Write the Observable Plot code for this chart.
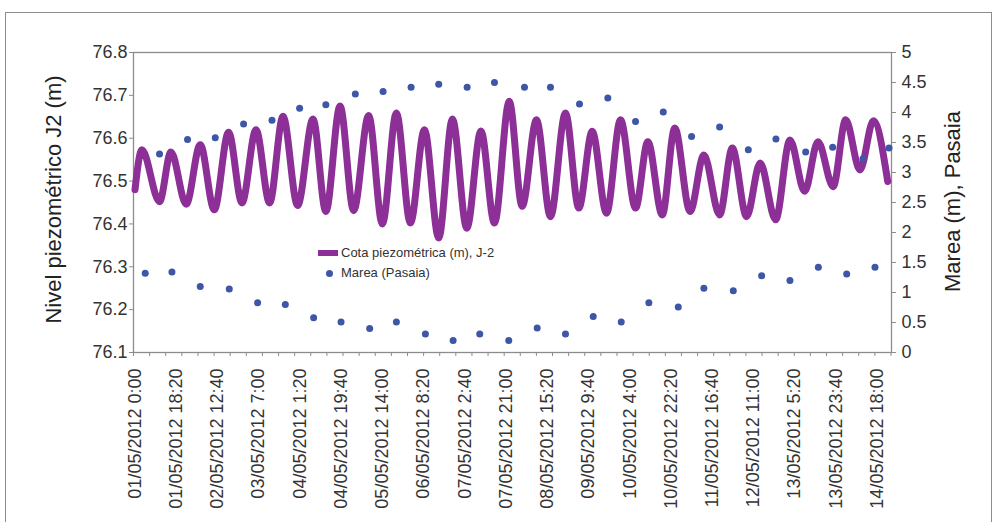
<!DOCTYPE html>
<html>
<head>
<meta charset="utf-8">
<script src="https://cdn.jsdelivr.net/npm/d3@7"></script>
<script src="https://cdn.jsdelivr.net/npm/@observablehq/plot@0.6"></script>
<style>
  body { margin: 0; background: #fff; font-family: "Liberation Sans", Arial, sans-serif; }
  #wrap { position: relative; width: 999px; height: 522px; overflow: hidden; background: #fff; }
  #border { position: absolute; left: 5px; top: 12px; width: 987px; height: 540px; border: 1.5px solid #8c8c8c; box-sizing: border-box; }
  #chart { position: absolute; left: 0; top: 0; }
  .legtxt { position: absolute; font-size: 13px; color: #333; line-height: 16px; white-space: nowrap; }
  .swatch { position: absolute; }
</style>
</head>
<body>
<div id="wrap">
  <div id="border"></div>
  <div id="chart"></div>
  <div class="swatch" style="left:318px;top:250px;width:20px;height:6px;background:#8c2f96;"></div>
  <div class="legtxt" style="left:341px;top:245px;">Cota piezométrica (m), J-2</div>
  <div class="swatch" style="left:326px;top:270px;width:7px;height:7px;border-radius:50%;background:#3d56a6;"></div>
  <div class="legtxt" style="left:341px;top:265px;">Marea (Pasaia)</div>
</div>
<script>
// ---- Data ----
const tickLabels = [
  "01/05/2012 0:00", "01/05/2012 18:20", "02/05/2012 12:40", "03/05/2012 7:00",
  "04/05/2012 1:20", "04/05/2012 19:40", "05/05/2012 14:00", "06/05/2012 8:20",
  "07/05/2012 2:40", "07/05/2012 21:00", "08/05/2012 15:20", "09/05/2012 9:40",
  "10/05/2012 4:00", "10/05/2012 22:20", "11/05/2012 16:40", "12/05/2012 11:00",
  "13/05/2012 5:20", "13/05/2012 23:40", "14/05/2012 18:00"
];

// hours since 01/05/2012 0:00 (extrema of the piezometric curve)
const piezoHours = [
  0, 3.07, 10.90, 15.97, 22.78, 29.01, 35.24, 41.61, 47.57, 53.80, 59.85, 65.81, 72.31,
  79.16, 84.86, 91.18, 97.23, 103.90, 110.00, 116.23, 122.46, 128.69, 135.05, 141.15,
  147.55, 153.83, 159.84, 166.42, 172.16, 178.53, 184.75, 191.43, 197.35, 203.31,
  209.67, 215.90, 222.58, 228.05, 234.46, 240.02, 246.83, 252.97, 259.96, 265.61,
  271.97, 277.98, 284.87, 291.24, 297.78, 303.70, 310.46, 316.02, 322.39, 328.35, 334.72
];
const piezoLevel = [
  76.480, 76.573, 76.452, 76.568, 76.446, 76.585, 76.433, 76.614, 76.449, 76.620, 76.449, 76.651, 76.443,
  76.645, 76.429, 76.675, 76.431, 76.653, 76.400, 76.659, 76.402, 76.620, 76.367, 76.645,
  76.390, 76.617, 76.402, 76.686, 76.441, 76.643, 76.417, 76.659, 76.437, 76.616,
  76.425, 76.643, 76.437, 76.592, 76.421, 76.624, 76.429, 76.561, 76.421, 76.577,
  76.417, 76.542, 76.410, 76.596, 76.476, 76.592, 76.487, 76.643, 76.526, 76.641, 76.499
];

// tide (Pasaia), hours since 01/05/2012 0:00 and level in m
const tideHours = [
  4.54, 10.90, 16.42, 23.36, 29.01, 35.69, 41.92, 48.28, 54.51, 60.92, 66.84, 73.20,
  79.43, 84.86, 91.62, 97.98, 104.35, 110.31, 116.23, 122.77, 129.13, 135.05, 141.46,
  147.69, 153.30, 159.84, 166.20, 173.19, 178.84, 184.76, 191.43, 197.66, 203.76,
  210.25, 216.22, 222.58, 228.50, 234.91, 241.58, 247.50, 252.97, 259.96, 266.05,
  272.73, 278.65, 285.01, 291.24, 298.23, 303.88, 310.24, 316.47, 323.73, 329.06, 335.30
];
const tideLevel = [
  1.32, 3.31, 1.34, 3.55, 1.10, 3.58, 1.06, 3.81, 0.83, 3.87, 0.80, 4.07,
  0.58, 4.13, 0.51, 4.31, 0.40, 4.35, 0.51, 4.42, 0.31, 4.47, 0.20,
  4.42, 0.31, 4.50, 0.20, 4.42, 0.41, 4.42, 0.31, 4.14, 0.60,
  4.24, 0.51, 3.85, 0.83, 4.01, 0.76, 3.60, 1.07, 3.76, 1.03,
  3.38, 1.28, 3.56, 1.20, 3.34, 1.42, 3.42, 1.31, 3.23, 1.42, 3.41
];

const leftTicks = [76.1, 76.2, 76.3, 76.4, 76.5, 76.6, 76.7, 76.8];
const rightTicks = [0, 0.5, 1, 1.5, 2, 2.5, 3, 3.5, 4, 4.5, 5];

// ---- Build ----
const leftMin = 76.1, leftMax = 76.8, rightMin = 0, rightMax = 5;
const toLeft = r => leftMin + (r - rightMin) * (leftMax - leftMin) / (rightMax - rightMin);
const fromLeft = v => rightMin + (v - leftMin) * (rightMax - rightMin) / (leftMax - leftMin);

const parseLabel = s => {
  const [date, time] = s.split(" ");
  const day = +date.slice(0, 2);
  const [hh, mm] = time.split(":").map(Number);
  return (day - 1) * 24 + hh + mm / 60;
};
const labelHours = tickLabels.map(parseLabel);
const labelMap = new Map(labelHours.map((h, i) => [h, tickLabels[i]]));

const xDomain = [-0.67, 336.4];
const minorStep = 7 + 10 / 60;
const minorTicks = d3.range(xDomain[0], xDomain[1] + 0.01, minorStep);

const piezo = piezoHours.map((h, i) => ({h, v: piezoLevel[i]}));
const tide = tideHours.map((h, i) => ({h, r: tideLevel[i]}));

const purple = "#8c2f96";
const blue = "#3d56a6";
const axisGray = "#8c8c8c";
const textCol = "#333";

const chart = Plot.plot({
  width: 999,
  height: 522,
  marginLeft: 133,
  marginRight: 108,
  marginTop: 52,
  marginBottom: 170,
  style: {fontFamily: '"Liberation Sans", Arial, sans-serif', fontSize: "18px", background: "transparent", overflow: "visible"},
  x: {domain: xDomain, label: null},
  y: {domain: [leftMin, leftMax], label: null},
  marks: [
    Plot.frame({stroke: axisGray, strokeWidth: 1.3}),
    Plot.axisY(leftTicks, {anchor: "left", tickSize: 4, tickPadding: 2, stroke: axisGray, fill: textCol,
      tickFormat: d => d.toFixed(1), label: null}),
    Plot.axisY(rightTicks.map(toLeft), {anchor: "right", tickSize: 4, tickPadding: 6, stroke: axisGray, fill: textCol,
      tickFormat: v => d3.format("~g")(Math.round(fromLeft(v) * 10) / 10), label: null}),
    Plot.axisX(minorTicks, {anchor: "bottom", tickSize: 4, stroke: axisGray, tickFormat: () => "", label: null}),
    Plot.axisX(labelHours, {anchor: "bottom", tickSize: 0, tickPadding: 16, tickRotate: -90, fill: textCol,
      tickFormat: h => labelMap.get(h), label: null}),
    Plot.line(piezo, {x: "h", y: "v", stroke: purple, strokeWidth: 7, curve: "monotone-x", strokeLinejoin: "round"}),
    Plot.dot(tide, {x: "h", y: d => toLeft(d.r), r: 3.5, fill: blue, stroke: "none"}),
    Plot.text(["Nivel piezométrico J2 (m)"], {text: d => d, frameAnchor: "left", textAnchor: "middle", dx: -80, dy: -3, rotate: -90, fontSize: 22, fill: "#222"}),
    Plot.text(["Marea (m), Pasaia"], {text: d => d, frameAnchor: "right", textAnchor: "middle", dx: 61, dy: -1, rotate: -90, fontSize: 22, fill: "#222"})
  ]
});
document.getElementById("chart").appendChild(chart);
</script>
</body>
</html>
